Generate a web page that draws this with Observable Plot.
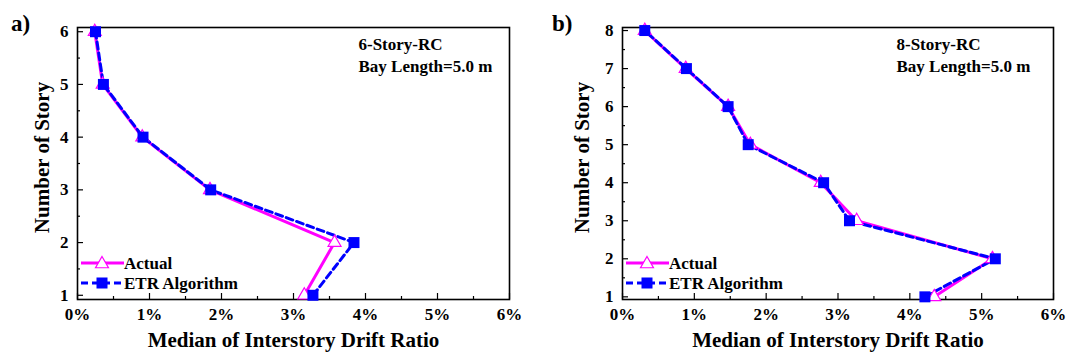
<!DOCTYPE html>
<html>
<head>
<meta charset="utf-8">
<script src="https://cdn.jsdelivr.net/npm/d3@7"></script>
<script src="https://cdn.jsdelivr.net/npm/@observablehq/plot@0.6"></script>
<style>
  html, body { margin: 0; padding: 0; background: #fff; }
  #wrap { position: relative; width: 1067px; height: 356px; overflow: hidden; font-family: 'Liberation Serif', 'Times New Roman', serif; font-weight: bold; }
  #wrap svg, #wrap text { font-family: 'Liberation Serif', 'Times New Roman', serif; }
  .panel { position: absolute; top: 0; }
  .tag { position: absolute; font-size: 23px; font-weight: bold; line-height: 1; }
  .legend { position: absolute; }
</style>
</head>
<body>
<div id="wrap"></div>
<script>
// ---- data ----
const storiesA = [1, 2, 3, 4, 5, 6];
const actualA  = [3.15, 3.57, 1.84, 0.90, 0.35, 0.24];
const etrA     = [3.27, 3.84, 1.85, 0.91, 0.36, 0.25];

const storiesB = [1, 2, 3, 4, 5, 6, 7, 8];
const actualB  = [4.34, 5.15, 3.26, 2.76, 1.78, 1.47, 0.88, 0.31];
const etrB     = [4.21, 5.19, 3.16, 2.80, 1.75, 1.47, 0.89, 0.31];

const xTicks = [0, 1, 2, 3, 4, 5, 6];
const xMinor = [0.5, 1.5, 2.5, 3.5, 4.5, 5.5];
const seriesNames = ["Actual", "ETR Algorithm"];
const xLabel = "Median of Interstory Drift Ratio";
const yLabel = "Number of Story";

const MAGENTA = "#ff00ff";
const BLUE = "#0000ff";
const FONT = "'Liberation Serif', 'Times New Roman', serif";

function panel({left, width, mL, mR, stories, actual, etr, yDomain, note}) {
  const height = 356, mT = 27, mB = 57;
  const frameW = width - mL - mR, frameH = height - mT - mB;
  const yTicks = stories;
  const yMinor = stories.slice(0, -1).map(s => s + 0.5);
  const A = stories.map((s, i) => ({story: s, v: actual[i]}));
  const E = stories.map((s, i) => ({story: s, v: etr[i]}));
  const chart = Plot.plot({
    width, height,
    marginLeft: mL, marginRight: mR, marginTop: mT, marginBottom: mB,
    style: {fontFamily: FONT, fontWeight: "bold", fontSize: "17px", color: "#000", background: "transparent"},
    x: {domain: [0, 6]},
    y: {domain: yDomain},
    marks: [
      Plot.axisX({ticks: xTicks, tickFormat: d => d + "%", tickSize: 0, tickPadding: 8, label: null, fontSize: 17, fontWeight: "bold"}),
      Plot.axisY({ticks: yTicks, tickFormat: d => String(d), tickSize: 0, tickPadding: 9, label: null, fontSize: 17, fontWeight: "bold"}),
      // inward ticks
      Plot.tickX(xTicks, {x: d => d, insetTop: frameH - 6, stroke: "#000", strokeWidth: 1.2}),
      Plot.tickX(xMinor, {x: d => d, insetTop: frameH - 3, stroke: "#000", strokeWidth: 1.2}),
      Plot.tickY(yTicks, {y: d => d, insetRight: frameW - 6, stroke: "#000", strokeWidth: 1.2}),
      Plot.tickY(yMinor, {y: d => d, insetRight: frameW - 3, stroke: "#000", strokeWidth: 1.2}),
      Plot.frame({stroke: "#000", strokeWidth: 1.6}),
      // series
      Plot.line(A, {x: "v", y: "story", stroke: MAGENTA, strokeWidth: 3}),
      Plot.line(E, {x: "v", y: "story", stroke: BLUE, strokeWidth: 3, strokeDasharray: "7,4"}),
      Plot.dot(A, {x: "v", y: "story", symbol: "triangle", r: 4.8, fill: "#fff", stroke: MAGENTA, strokeWidth: 1.2}),
      Plot.dot(E, {x: "v", y: "story", symbol: "square", r: 6.2, fill: BLUE, stroke: "none"}),
      // annotation
      Plot.text([note], {frameAnchor: "top-right", textAnchor: "start", lineAnchor: "top", dx: note.dx, dy: 7,
        text: d => d.text, fontSize: 17, fontWeight: "bold", lineHeight: 1.3, fill: "#000"}),
      // axis titles
      Plot.text([xLabel], {frameAnchor: "bottom", dy: 47, text: d => d, fontSize: 21, fontWeight: "bold", fill: "#000"}),
      Plot.text([yLabel], {frameAnchor: "left", textAnchor: "middle", lineAnchor: "middle", dx: -(mL - note.yLabelX), dy: -6, rotate: -90,
        text: d => d, fontSize: 21, fontWeight: "bold", fill: "#000"})
    ]
  });
  const div = document.createElement("div");
  div.className = "panel";
  div.style.left = left + "px";
  div.appendChild(chart);
  document.getElementById("wrap").appendChild(div);

  // legend (line + symbol samples)
  const lg = d3.select("#wrap").append("svg").attr("class", "legend")
    .attr("width", 170).attr("height", 40)
    .style("left", (left + mL + 3) + "px").style("top", (mT + frameH - 46) + "px");
  const rows = [
    {name: seriesNames[0], y: 10, stroke: MAGENTA, dash: null},
    {name: seriesNames[1], y: 30, stroke: BLUE, dash: "7,4"}
  ];
  rows.forEach((r, i) => {
    lg.append("line").attr("x1", 1).attr("x2", 44).attr("y1", r.y).attr("y2", r.y)
      .attr("stroke", r.stroke).attr("stroke-width", 3).attr("stroke-dasharray", r.dash);
    if (i === 0) {
      const s = d3.symbol(d3.symbolTriangle, 4.8 * 4.8 * Math.PI)();
      lg.append("path").attr("d", s).attr("transform", `translate(22,${r.y + 1})`)
        .attr("fill", "#fff").attr("stroke", MAGENTA).attr("stroke-width", 1.2);
    } else {
      lg.append("rect").attr("x", 22 - 5.5).attr("y", r.y - 5.5).attr("width", 11).attr("height", 11).attr("fill", BLUE);
    }
    lg.append("text").attr("x", 44).attr("y", r.y).attr("dy", "0.35em")
      .attr("font-family", FONT).attr("font-weight", "bold").attr("font-size", 17).text(r.name);
  });
}

panel({left: 0, width: 540, mL: 77, mR: 31, stories: storiesA, actual: actualA, etr: etrA,
  yDomain: [0.92, 6.08], note: {text: "6-Story-RC\nBay Length=5.0 m", dx: -151, yLabelX: 42}});
panel({left: 540, width: 527, mL: 82, mR: 14, stories: storiesB, actual: actualB, etr: etrB,
  yDomain: [0.93, 8.08], note: {text: "8-Story-RC\nBay Length=5.0 m", dx: -157, yLabelX: 42}});

// panel tags
["a)", "b)"].forEach((t, i) => {
  const d = document.createElement("div");
  d.className = "tag";
  d.textContent = t;
  d.style.left = (i === 0 ? 11 : 552) + "px";
  d.style.top = "12px";
  document.getElementById("wrap").appendChild(d);
});
</script>
</body>
</html>
